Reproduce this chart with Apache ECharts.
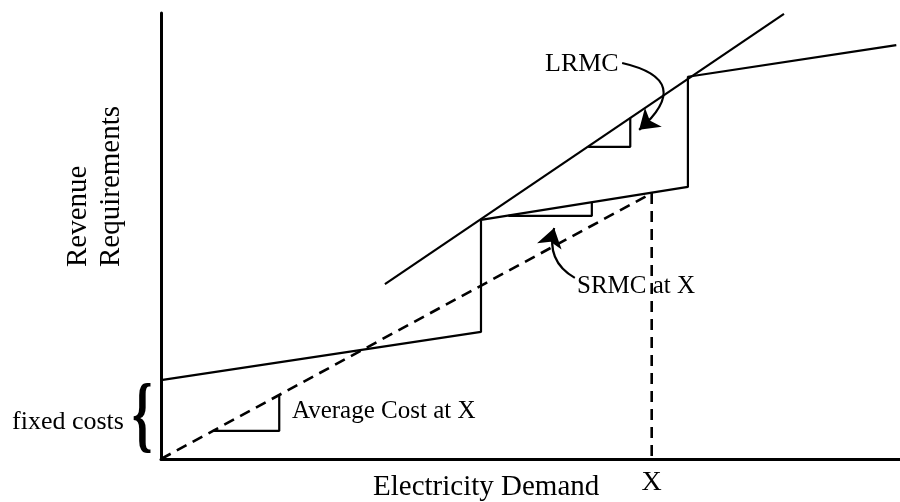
<!DOCTYPE html>
<html>
<head>
<meta charset="utf-8">
<script src="https://cdn.jsdelivr.net/npm/echarts@6/dist/echarts.min.js"></script>
<style>
  html, body { margin: 0; padding: 0; background: #fff; }
  #chart { width: 900px; height: 502px; }
</style>
</head>
<body>
<div id="chart"></div>
<script>
// 需求 (x) 与收入要求 (y)，单位为相对刻度 0-100
var stepCurve = [[0, 17.7], [43.3, 28.5], [43.3, 53.6], [71.3, 61.0], [71.3, 85.7], [99.5, 92.8]];
var lrmcLine = [[30.3, 39.2], [84.3, 99.8]];
var avgCostLine = [[0, 0], [66.4, 59.6], [66.4, 0]];
var avgTriangle = [[7.0, 6.3], [16.0, 6.3], [16.0, 14.4]];
var lrmcTriangle = [[57.8, 70.0], [63.5, 70.0], [63.5, 76.5]];
var srmcTriangle = [[47.0, 54.5], [58.3, 54.5], [58.3, 57.6]];
var lrmcArrow = [[62.4, 88.8], [64.7, 73.8]];
var srmcArrow = [[56.0, 40.6], [53.2, 51.8]];
var demandTicks = [66.4];
var demandTickLabels = ['X'];

var FONT = '"Liberation Serif", "Times New Roman", serif';

var chart = echarts.init(document.getElementById('chart'));

function plainLine(name, data, dashed) {
    return {
        name: name,
        type: 'line',
        data: data,
        symbol: 'none',
        animation: false,
        lineStyle: { color: '#000', width: dashed ? 2.6 : 2.2, type: dashed ? [11, 7] : 'solid' }
    };
}

function arrow(name, coords, curveness) {
    return {
        name: name,
        type: 'lines',
        coordinateSystem: 'cartesian2d',
        animation: false,
        symbol: ['none', 'arrow'],
        symbolSize: [15, 19],
        lineStyle: { color: '#000', width: 2.2, curveness: curveness, opacity: 1 },
        data: [{ coords: coords }]
    };
}

function label(text, x, y, size, opts, weight) {
    return Object.assign({
        type: 'text',
        x: x,
        y: y,
        style: {
            text: text,
            font: (weight || 'normal') + ' ' + size + 'px ' + FONT,
            fill: '#000',
            align: 'left',
            verticalAlign: 'middle'
        }
    }, opts || {});
}

var option = {
    backgroundColor: '#fff',
    animation: false,
    grid: { left: 161, right: 0, top: 13, bottom: 43 },
    xAxis: {
        type: 'value',
        min: 0,
        max: 100,
        splitLine: { show: false },
        axisTick: { show: false },
        axisLine: { show: true, lineStyle: { color: '#000', width: 3 } },
        axisLabel: {
            customValues: demandTicks,
            formatter: function (v) {
                var i = demandTicks.indexOf(v);
                return i >= 0 ? demandTickLabels[i] : '';
            },
            color: '#000',
            fontFamily: FONT,
            fontSize: 28,
            margin: 10
        }
    },
    yAxis: {
        type: 'value',
        min: 0,
        max: 100,
        splitLine: { show: false },
        axisTick: { show: false },
        axisLabel: { show: false },
        axisLine: { show: true, lineStyle: { color: '#000', width: 3 } }
    },
    series: [
        plainLine('step', stepCurve),
        plainLine('LRMC', lrmcLine),
        plainLine('average', avgCostLine, true),
        plainLine('avgTri', avgTriangle),
        plainLine('lrmcTri', lrmcTriangle),
        plainLine('srmcTri', srmcTriangle),
        arrow('lrmcArrow', lrmcArrow, 0.97),
        arrow('srmcArrow', srmcArrow, 0.38)
    ],
    graphic: [
        label('LRMC', 545, 64, 26),
        label('SRMC at X', 577, 286, 25),
        label('Average Cost at X', 292, 411, 25),
        label('fixed costs', 12, 422, 26),
        label('Electricity Demand', 373, 487, 29),
        label('Revenue', 78, 267, 29, { rotation: Math.PI / 2 }),
        label('Requirements', 111, 267, 29, { rotation: Math.PI / 2 }),
        label('{', 132, 420, 84, { scaleX: 0.62 }, 'bold')
    ]
};

chart.setOption(option);
</script>
</body>
</html>
